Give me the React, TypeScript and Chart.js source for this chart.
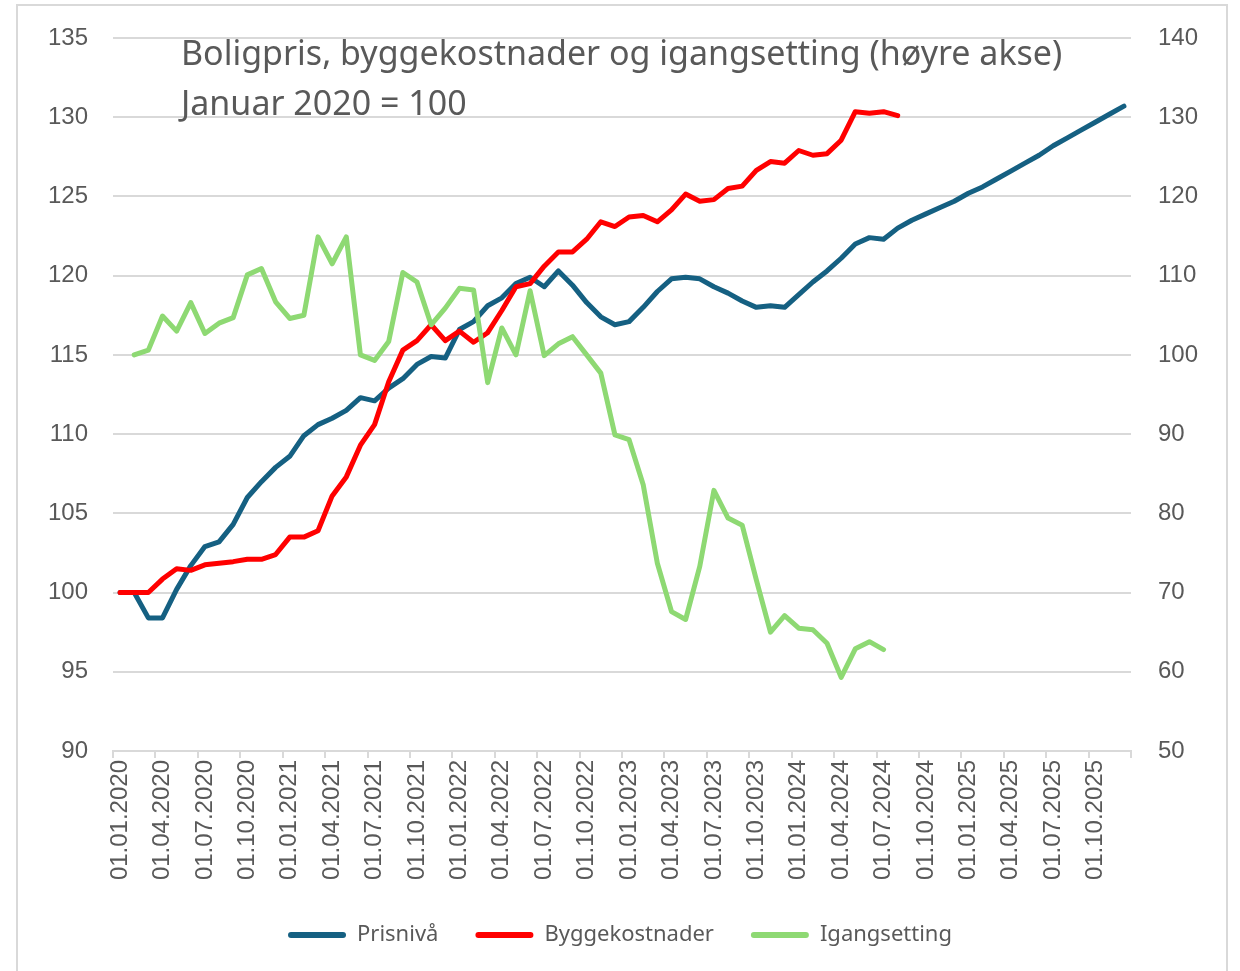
import React, { useEffect, useRef } from "react";
import { Chart, registerables } from "chart.js";

Chart.register(...registerables);

const categories: string[] = [
  "01.01.2020", "01.02.2020", "01.03.2020", "01.04.2020", "01.05.2020", "01.06.2020", "01.07.2020", "01.08.2020", "01.09.2020", "01.10.2020", "01.11.2020", "01.12.2020",
  "01.01.2021", "01.02.2021", "01.03.2021", "01.04.2021", "01.05.2021", "01.06.2021", "01.07.2021", "01.08.2021", "01.09.2021", "01.10.2021", "01.11.2021", "01.12.2021",
  "01.01.2022", "01.02.2022", "01.03.2022", "01.04.2022", "01.05.2022", "01.06.2022", "01.07.2022", "01.08.2022", "01.09.2022", "01.10.2022", "01.11.2022", "01.12.2022",
  "01.01.2023", "01.02.2023", "01.03.2023", "01.04.2023", "01.05.2023", "01.06.2023", "01.07.2023", "01.08.2023", "01.09.2023", "01.10.2023", "01.11.2023", "01.12.2023",
  "01.01.2024", "01.02.2024", "01.03.2024", "01.04.2024", "01.05.2024", "01.06.2024", "01.07.2024", "01.08.2024", "01.09.2024", "01.10.2024", "01.11.2024", "01.12.2024",
  "01.01.2025", "01.02.2025", "01.03.2025", "01.04.2025", "01.05.2025", "01.06.2025", "01.07.2025", "01.08.2025", "01.09.2025", "01.10.2025", "01.11.2025", "01.12.2025",
];

// Left axis (Januar 2020 = 100)
const prisniva: (number | null)[] = [
  100.0, 100.0, 98.4, 98.4, 100.2, 101.7, 102.9, 103.2, 104.3, 106.0, 107.0, 107.9,
  108.6, 109.9, 110.6, 111.0, 111.5, 112.3, 112.1, 112.9, 113.5, 114.4, 114.9, 114.8,
  116.6, 117.1, 118.1, 118.6, 119.5, 119.9, 119.3, 120.3, 119.4, 118.3, 117.4, 116.9,
  117.1, 118.0, 119.0, 119.8, 119.9, 119.8, 119.3, 118.9, 118.4, 118.0, 118.1, 118.0,
  118.8, 119.6, 120.3, 121.1, 122.0, 122.4, 122.3, 123.0, 123.5, 123.9, 124.3, 124.7,
  125.2, 125.6, 126.1, 126.6, 127.1, 127.6, 128.2, 128.7, 129.2, 129.7, 130.2, 130.7,
];

const byggekostnader: (number | null)[] = [
  100.0, 100.0, 100.0, 100.85, 101.5, 101.4, 101.75, 101.85, 101.95, 102.1, 102.1, 102.4,
  103.5, 103.5, 103.9, 106.1, 107.3, 109.3, 110.6, 113.3, 115.3, 115.9, 116.9, 115.9,
  116.5, 115.8, 116.4, 117.8, 119.3, 119.5, 120.6, 121.5, 121.5, 122.3, 123.4, 123.1,
  123.7, 123.8, 123.4, 124.15, 125.15, 124.7, 124.8, 125.5, 125.65, 126.65, 127.2, 127.1,
  127.9, 127.6, 127.7, 128.55, 130.35, 130.25, 130.35, 130.1, null, null, null, null,
  null, null, null, null, null, null, null, null, null, null, null, null,
];

// Right axis
const igangsetting: (number | null)[] = [
  null, 100.0, 100.6, 104.9, 103.0, 106.6, 102.7, 104.0, 104.7, 110.1, 110.9, 106.7,
  104.6, 105.0, 114.9, 111.5, 114.9, 100.0, 99.3, 101.7, 110.4, 109.2, 103.8, 105.9,
  108.4, 108.2, 96.5, 103.4, 100.0, 108.1, 99.9, 101.4, 102.3, 100.0, 97.7, 89.9,
  89.3, 83.6, 73.7, 67.6, 66.6, 73.3, 82.9, 79.4, 78.5, 71.6, 65.0, 67.1,
  65.5, 65.3, 63.6, 59.3, 62.9, 63.8, 62.8, null, null, null, null, null,
  null, null, null, null, null, null, null, null, null, null, null, null,
];

const seriesNames = ["Prisnivå", "Byggekostnader", "Igangsetting"];
const seriesColors = ["#156082", "#FF0000", "#8ED973"];
const titleLines = ["Boligpris, byggekostnader og igangsetting (høyre akse)", "Januar 2020 = 100"];

const TEXT = "#595959";
const GRID = "#d9d9d9";

const insideTitle = {
  id: "insideTitle",
  afterDraw(chart: any) {
    const { ctx, chartArea } = chart;
    ctx.save();
    ctx.font = '34px "Noto Sans"';
    ctx.fillStyle = TEXT;
    ctx.textAlign = "left";
    ctx.textBaseline = "alphabetic";
    ctx.fillText(titleLines[0], chartArea.left + 68, chartArea.top + 27);
    ctx.fillText(titleLines[1], chartArea.left + 68, chartArea.top + 77);
    ctx.restore();
  },
};

export default function App() {
  const canvasRef = useRef<HTMLCanvasElement | null>(null);

  useEffect(() => {
    const canvas = canvasRef.current;
    if (!canvas) return;
    const lineCommon = {
      borderWidth: 5,
      pointRadius: 0,
      pointHoverRadius: 0,
      tension: 0,
      borderJoinStyle: "round" as const,
      borderCapStyle: "round" as const,
      spanGaps: false,
    };
    const chart = new Chart(canvas, {
      type: "line",
      data: {
        labels: categories,
        datasets: [
          { ...lineCommon, label: seriesNames[0], data: prisniva, borderColor: seriesColors[0], backgroundColor: seriesColors[0], yAxisID: "y", order: 2 },
          { ...lineCommon, label: seriesNames[1], data: byggekostnader, borderColor: seriesColors[1], backgroundColor: seriesColors[1], yAxisID: "y", order: 1 },
          { ...lineCommon, label: seriesNames[2], data: igangsetting, borderColor: seriesColors[2], backgroundColor: seriesColors[2], yAxisID: "y1", order: 0 },
        ],
      },
      options: {
        responsive: false,
        animation: false,
        devicePixelRatio: 1,
        layout: { padding: { left: 20, right: 20, top: 38, bottom: 15 } },
        plugins: {
          tooltip: { enabled: false },
          title: { display: false },
          legend: {
            position: "bottom",
            labels: {
              boxWidth: 58,
              boxHeight: 6,
              padding: 37,
              color: TEXT,
              font: { family: "Noto Sans", size: 22 },
              sort: (a: any, b: any) => a.datasetIndex - b.datasetIndex,
              generateLabels: (c: any) =>
                (Chart.defaults.plugins.legend.labels.generateLabels as any)(c).map((l: any) => ({
                  ...l,
                  fillStyle: l.strokeStyle,
                  lineWidth: 0,
                  borderRadius: 3,
                })),
            },
          },
        },
        scales: {
          x: {
            type: "category",
            offset: true,
            grid: {
              offset: true,
              drawOnChartArea: false,
              drawTicks: true,
              tickLength: 7,
              lineWidth: 2,
              color: (c: any) => (c.index === undefined || c.index % 3 === 0 ? GRID : "rgba(0,0,0,0)"),
            },
            border: { display: true, color: GRID, width: 2 },
            ticks: {
              autoSkip: false,
              maxRotation: 90,
              minRotation: 90,
              padding: 2,
              color: TEXT,
              font: { family: "Liberation Sans", size: 24 },
              callback: (_v: any, i: number) => (i % 3 === 0 ? categories[i] : ""),
            },
            afterFit: (s: any) => {
              s.height = 136;
            },
          },
          y: {
            position: "left",
            min: 90,
            max: 135,
            ticks: { stepSize: 5, padding: 25, color: TEXT, font: { family: "Liberation Sans", size: 24 } },
            grid: { color: GRID, lineWidth: 2, drawTicks: false },
            border: { display: false },
            afterFit: (s: any) => {
              s.width = 93;
              s.paddingTop = 0;
              s.paddingBottom = 0;
            },
          },
          y1: {
            position: "right",
            min: 50,
            max: 140,
            ticks: { stepSize: 10, padding: 27, color: TEXT, font: { family: "Liberation Sans", size: 24 } },
            grid: { display: false, drawTicks: false },
            border: { display: false },
            afterFit: (s: any) => {
              s.width = 89;
              s.paddingTop = 0;
              s.paddingBottom = 0;
            },
          },
        },
      },
      plugins: [insideTitle],
    });
    return () => chart.destroy();
  }, []);

  return (
    <div style={{ position: "absolute", left: 0, top: 0, width: 1240, height: 971, overflow: "hidden", background: "#fff" }}>
      <div
        style={{
          position: "absolute",
          left: 16,
          top: 4,
          width: 1212,
          height: 1000,
          border: "2px solid #d9d9d9",
          boxSizing: "border-box",
        }}
      />
      <canvas ref={canvasRef} width={1240} height={971} style={{ position: "absolute", left: 0, top: 0, width: 1240, height: 971 }} />
    </div>
  );
}
